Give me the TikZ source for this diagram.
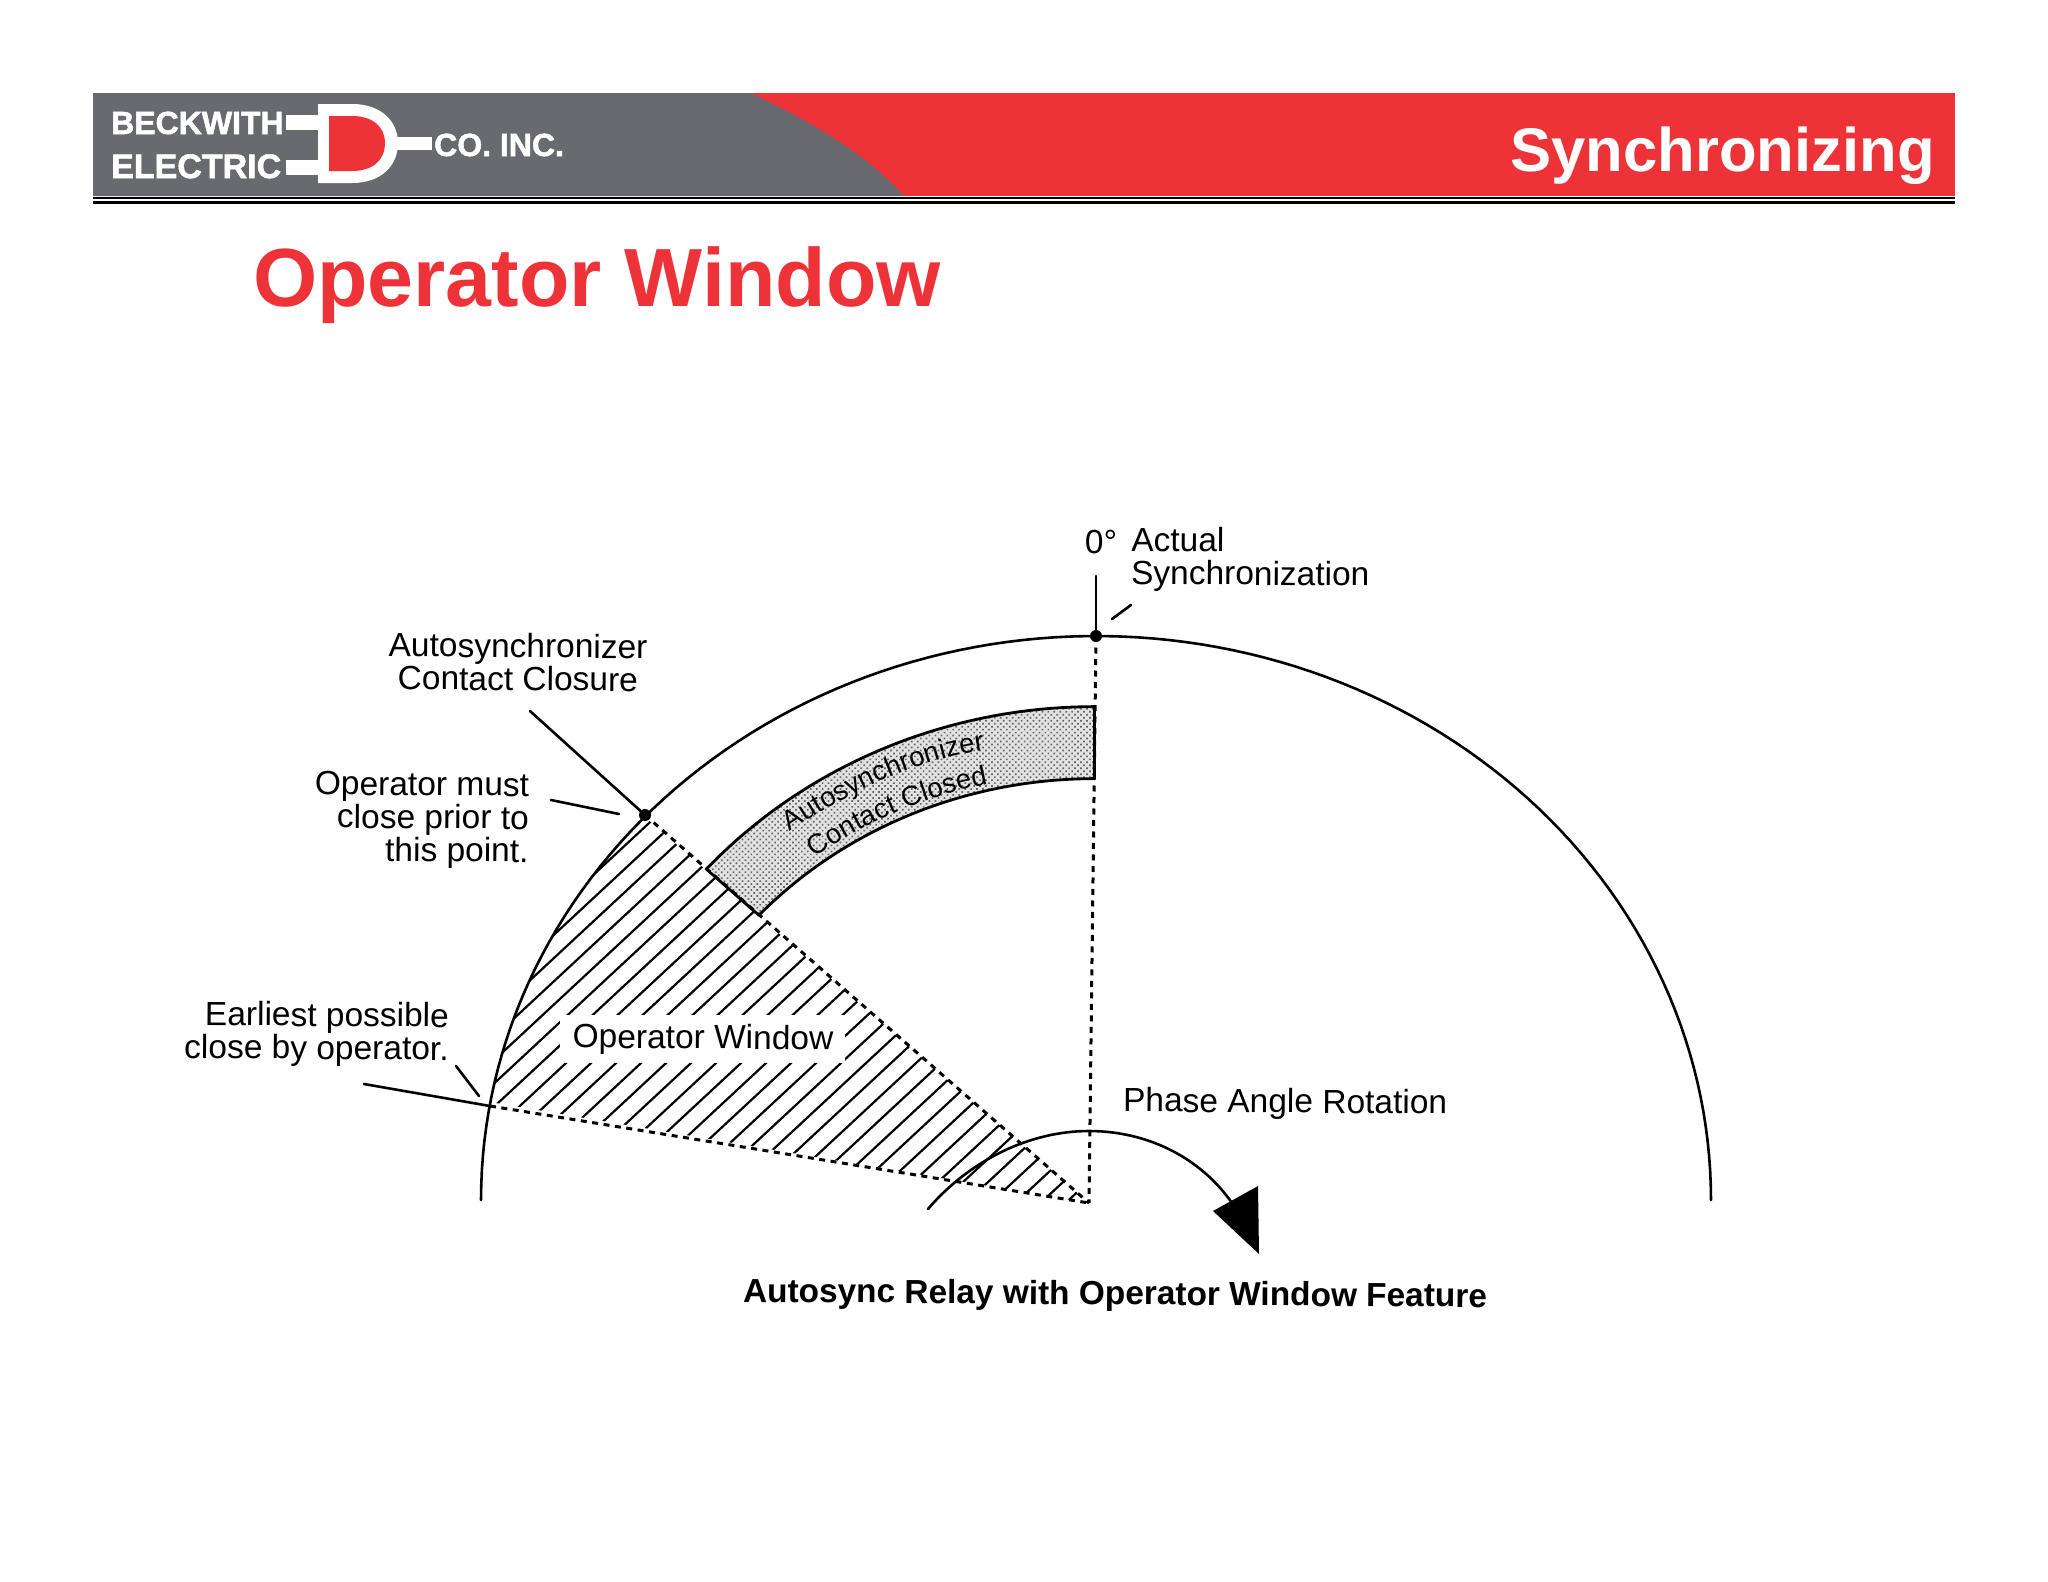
\documentclass[tikz,border=0pt]{standalone}
\usepackage{fontspec}
\usetikzlibrary{patterns.meta,decorations.text}
\setmainfont{Liberation Sans}
\newfontfamily\logofont{Liberation Sans}[BoldFeatures={FakeBold=1.6}]
\definecolor{bandgray}{HTML}{686A6F}
\definecolor{bandred}{HTML}{EE3338}
\definecolor{stipple}{HTML}{E2E2E2}
\definecolor{stippledot}{HTML}{666666}
\tikzset{
  lab/.style={inner sep=0pt,align=center,rotate=-0.4,font=\fontsize{33.5}{33}\selectfont},
  labr/.style={lab,align=right},
  lead/.style={line width=2.6pt,line cap=round},
  curve/.style={line width=2.6pt,line cap=round},
  dots/.style={line width=3pt,dash pattern=on 6pt off 5.5pt},
  hatch/.style={line width=2.2pt},
  junction/.style={circle,fill=black,inner sep=0pt,minimum size=12pt},
  logo/.style={inner sep=0pt,text=white,font=\logofont\bfseries\fontsize{#1}{#1}\selectfont},
}
\begin{document}
\begin{tikzpicture}[x=1pt,y=-1pt]
\useasboundingbox (0,0) rectangle (2048,1582);
\fill[white] (0,0) rectangle (2048,1582);
% header
\fill[bandred] (93,93) rectangle (1955,196);
\fill[bandgray] (93,93) -- (751,93) .. controls (810,122) and (862,150) .. (904,196) -- (93,196) -- cycle;
\draw[line width=2pt] (93,197.5) -- (1955,197.5);
\draw[line width=3.5pt] (93,202.5) -- (1955,202.5);
% logo
\fill[white] (286,115) rectangle (320,130);
\fill[white] (286,160) rectangle (320,175);
\fill[white] (395,137) rectangle (432,150);
\fill[white] (318,104) -- (352,104) .. controls (382,104) and (398,122) .. (398,143) .. controls (398,165) and (382,183) .. (352,183) -- (318,183) -- cycle;
\fill[bandred] (329,116) -- (352,116) .. controls (373,116) and (385,127) .. (385,143) .. controls (385,160) and (373,171) .. (352,171) -- (329,171) -- cycle;
\node[logo=32,anchor=base west] (beck) at (111,134) {BECKWITH};
\node[logo=34,anchor=base west] (elec) at (111,178) {ELECTRIC};
\node[logo=32,anchor=base west] (coinc) at (434,156) {CO. INC.};
\node[inner sep=0pt,anchor=base east,text=white,font=\bfseries\fontsize{61.6}{62}\selectfont] (sync) at (1935,171) {Synchronizing};
\node[inner sep=0pt,anchor=base west,text=bandred,font=\bfseries\fontsize{82.6}{82}\selectfont] (title) at (253,306) {Operator Window};
% key points
\coordinate (O) at (1089,1203);
\coordinate (top) at (1096,636);
\coordinate (close) at (645,815);
\coordinate (early) at (490,1106);
% hatching
\begin{scope}
\clip plot[domain=170:137.2,samples=40] ({1096+615*cos(\x)},{1200-564*sin(\x)}) -- (O) -- cycle;
\foreach \s in {208,233,...,1108}
  \draw[hatch] (\s,1210) -- ++(600,-558);
\end{scope}
\node[fill=white,minimum width=285pt,minimum height=48pt,inner sep=0pt] (gap) at (702,1039) {};
% band
\path[fill=stipple]
  plot[domain=90:137.8,samples=40] ({1094.5+524*cos(\x)},{1201.6-495*sin(\x)})
  -- plot[domain=137.4:90,samples=40] ({1094.5+456*cos(\x)},{1201.6-423*sin(\x)}) -- cycle;
\path[pattern={Dots[distance=4.2pt,radius=1.2pt,angle=45]},pattern color=stippledot,draw=black,line width=2.8pt,line join=round]
  plot[domain=90:137.8,samples=40] ({1094.5+524*cos(\x)},{1201.6-495*sin(\x)})
  -- plot[domain=137.4:90,samples=40] ({1094.5+456*cos(\x)},{1201.6-423*sin(\x)}) -- cycle;
% radial dotted lines
\draw[dots] (top) -- (O);
\draw[dots] (close) -- (O);
\draw[dots] (early) -- (O);
% great arc
\draw[curve] plot[domain=180:0,samples=120] ({1096+615*cos(\x)},{1200-564*sin(\x)});
% junctions
\node[junction] (topdot) at (top) {};
\node[junction] (closedot) at (close) {};
% leaders
\coordinate (a1) at (1096,576);
\draw[lead] (a1) -- (topdot);
\coordinate (a2) at (1112,619);
\coordinate (a3) at (1131,605);
\draw[lead] (a2) -- (a3);
\coordinate (b1) at (530,711);
\draw[lead] (b1) -- (closedot);
\coordinate (c1) at (551,800);
\coordinate (c2) at (619,814);
\draw[lead] (c1) -- (c2);
\coordinate (d1) at (364,1084);
\draw[lead] (d1) -- (early);
\coordinate (e1) at (456,1066);
\coordinate (e2) at (479,1096);
\draw[lead] (e1) -- (e2);
% phase rotation
\coordinate (p0) at (928,1209);
\coordinate (p1) at (1089,1131);
\coordinate (p2) at (1236,1209);
\draw[curve] (p0) .. controls (970,1160) and (1030,1131) .. (p1) .. controls (1150,1131) and (1205,1160) .. (p2);
\fill (1258,1186) -- (1213,1211) -- (1259,1254) -- cycle;
% texts
\node[lab] (zero) at (1101,542) {0°};
\node[lab,align=left,anchor=west] (actual) at (1131,559) {Actual\\Synchronization};
\node[lab] (acc) at (518,662) {Autosynchronizer\\Contact Closure};
\node[labr,anchor=east] (must) at (529,821) {Operator must\\close prior to\\this point.};
\node[labr,anchor=east] (earliest) at (449,1035) {Earliest possible\\close by operator.};
\node[lab] (opw) at (703,1040) {Operator Window};
\node[lab,anchor=west] (phase) at (1123,1103) {Phase Angle Rotation};
\node[lab,font=\bfseries\fontsize{33.4}{34}\selectfont] (cap) at (1115,1296) {Autosync Relay with Operator Window Feature};
\path[decorate,decoration={text along path,text align=fit to path,text={|\fontsize{27.6}{28}\selectfont|Autosynchronizer}}]
  (790,832) .. controls (858,786) and (923,759) .. (985,750);
\path[decorate,decoration={text along path,text align=fit to path,text={|\fontsize{27.6}{28}\selectfont|Contact Closed}}]
  (815,858) .. controls (867,821) and (924,797) .. (988,784);
\end{tikzpicture}
\end{document}
